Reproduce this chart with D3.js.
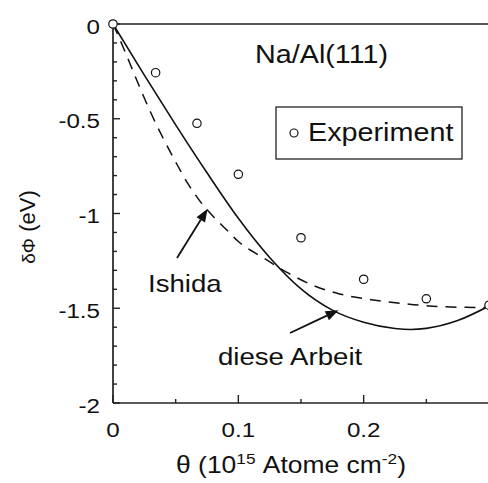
<!DOCTYPE html>
<html>
<head>
<meta charset="utf-8">
<script src="https://cdn.jsdelivr.net/npm/d3@7"></script>
<style>
  html, body { margin: 0; padding: 0; background: #fff; }
  svg { display: block; }
  text { font-family: "Liberation Sans", Arial, Helvetica, sans-serif; fill: #111; }
</style>
</head>
<body>
<svg id="chart" width="488" height="483"></svg>
<script>
// Coverage θ (10^15 atoms/cm²) and work-function change δΦ (eV)
const expTheta = [0, 0.034, 0.067, 0.1, 0.15, 0.2, 0.25, 0.3];
const expDPhi  = [0, -0.257, -0.524, -0.793, -1.128, -1.347, -1.45, -1.484];

// this work (solid curve)
const arbeitTheta = [0, 0.025, 0.05, 0.075, 0.1, 0.125, 0.15, 0.175, 0.2, 0.225, 0.2375, 0.25, 0.275, 0.3];
const arbeitDPhi  = [0, -0.27, -0.532, -0.785, -1.025, -1.232, -1.398, -1.51, -1.574, -1.607, -1.612, -1.606, -1.565, -1.488];

// Ishida (dashed curve)
const ishidaTheta = [0, 0.005, 0.01, 0.015, 0.02, 0.03, 0.04, 0.05, 0.06, 0.07, 0.08, 0.09, 0.1, 0.12, 0.14, 0.16, 0.18, 0.2, 0.22, 0.24, 0.26, 0.28, 0.3];
const ishidaDPhi  = [0, -0.075, -0.152, -0.233, -0.313, -0.466, -0.603, -0.728, -0.845, -0.94, -1.016, -1.082, -1.148, -1.234, -1.315, -1.38, -1.423, -1.449, -1.467, -1.481, -1.491, -1.495, -1.496];

const xMajor = [0, 0.1, 0.2];
const xMajorLabels = ["0", "0.1", "0.2"];
const xMinor = [0.05, 0.15, 0.25];
const yMajor = [0, -0.5, -1, -1.5, -2];
const yMajorLabels = ["0", "-0.5", "-1", "-1.5", "-2"];
const yMinor = [-0.1, -0.2, -0.3, -0.4, -0.6, -0.7, -0.8, -0.9, -1.1, -1.2, -1.3, -1.4, -1.6, -1.7, -1.8, -1.9];

const svg = d3.select("#chart");
const x = d3.scaleLinear().domain([0, 0.3]).range([113, 489]);
const y = d3.scaleLinear().domain([0, -2]).range([24, 403]);
const STRETCH = 1.15;
const ink = "#222";

// text helper with the slightly wide lettering of the figure
function label(g, px, py, txt, size, anchor) {
  return g.append("text")
    .attr("transform", `translate(${px},${py}) scale(${STRETCH},1)`)
    .attr("font-size", size)
    .attr("text-anchor", anchor || "start")
    .text(txt);
}

// frame lines: left, bottom, top
const frame = svg.append("g").attr("stroke", ink).attr("stroke-width", 1.7).attr("fill", "none");
frame.append("line").attr("x1", x(0)).attr("x2", x(0)).attr("y1", y(0)).attr("y2", y(-2));
frame.append("line").attr("x1", x(0)).attr("x2", x(0.3)).attr("y1", y(-2)).attr("y2", y(-2));
frame.append("line").attr("x1", x(0)).attr("x2", x(0.3)).attr("y1", y(0)).attr("y2", y(0));

// inward ticks
const ticks = svg.append("g").attr("stroke", ink).attr("stroke-width", 1.4);
xMajor.forEach(v => ticks.append("line").attr("x1", x(v)).attr("x2", x(v)).attr("y1", y(-2)).attr("y2", y(-2) - 8));
xMinor.forEach(v => ticks.append("line").attr("x1", x(v)).attr("x2", x(v)).attr("y1", y(-2)).attr("y2", y(-2) - 4));
yMajor.forEach(v => ticks.append("line").attr("x1", x(0)).attr("x2", x(0) + 7).attr("y1", y(v)).attr("y2", y(v)));
yMinor.forEach(v => ticks.append("line").attr("x1", x(0)).attr("x2", x(0) + 4).attr("y1", y(v)).attr("y2", y(v)));

// tick labels
const tl = svg.append("g");
xMajor.forEach((v, i) => label(tl, x(v), 437, xMajorLabels[i], 21, "middle"));
yMajor.forEach((v, i) => label(tl, 100, y(v) + 9.5, yMajorLabels[i], 21, "end"));

// axis titles
const xt = svg.append("text")
  .attr("transform", `translate(291,473) scale(${STRETCH},1)`)
  .attr("font-size", 23).attr("text-anchor", "middle");
xt.append("tspan").text("θ (10");
xt.append("tspan").attr("font-size", 15).attr("dy", -9).text("15");
xt.append("tspan").attr("dy", 9).text(" Atome cm");
xt.append("tspan").attr("font-size", 15).attr("dy", -9).text("-2");
xt.append("tspan").attr("dy", 9).text(")");

const yt = svg.append("text")
  .attr("transform", "translate(35,227) rotate(-90)")
  .attr("font-size", 22).attr("text-anchor", "middle");
yt.append("tspan").attr("font-size", 19).text("δΦ");
yt.append("tspan").text(" (eV)");

// curves
const line = d3.line().x(d => x(d[0])).y(d => y(d[1])).curve(d3.curveMonotoneX);
svg.append("path")
  .datum(arbeitTheta.map((t, i) => [t, arbeitDPhi[i]]))
  .attr("d", line).attr("fill", "none").attr("stroke", "#111").attr("stroke-width", 1.6);
svg.append("path")
  .datum(ishidaTheta.map((t, i) => [t, ishidaDPhi[i]]))
  .attr("d", line).attr("fill", "none").attr("stroke", "#111").attr("stroke-width", 1.5)
  .attr("stroke-dasharray", "11,8");

// experimental points
svg.append("g").selectAll("circle")
  .data(expTheta.map((t, i) => [t, expDPhi[i]]))
  .join("circle")
  .attr("cx", d => x(d[0])).attr("cy", d => y(d[1])).attr("r", 4.2)
  .attr("fill", "#fff").attr("stroke", "#111").attr("stroke-width", 1.2);

// system label
label(svg, 255, 63, "Na/Al(111)", 25);

// legend
const lg = svg.append("g");
lg.append("rect").attr("x", 276).attr("y", 107).attr("width", 186).attr("height", 52)
  .attr("fill", "#fff").attr("stroke", ink).attr("stroke-width", 1.3);
lg.append("circle").attr("cx", 294).attr("cy", 133).attr("r", 4)
  .attr("fill", "#fff").attr("stroke", "#111").attr("stroke-width", 1.2);
label(lg, 308, 141, "Experiment", 25);

// annotation arrows
function arrow(x1, y1, x2, y2) {
  const a = Math.atan2(y2 - y1, x2 - x1), L = 13, W = 5;
  const bx = x2 - L * Math.cos(a), by = y2 - L * Math.sin(a);
  svg.append("line").attr("x1", x1).attr("y1", y1).attr("x2", bx).attr("y2", by)
    .attr("stroke", "#111").attr("stroke-width", 1.8);
  svg.append("path")
    .attr("d", `M${x2},${y2}L${bx - W * Math.sin(a)},${by + W * Math.cos(a)}L${bx + W * Math.sin(a)},${by - W * Math.cos(a)}Z`)
    .attr("fill", "#111");
}
arrow(177, 258, x(0.0755), y(-0.975));
arrow(290, 333, x(0.18), y(-1.51));

label(svg, 148, 292, "Ishida", 24);
label(svg, 218, 365, "diese Arbeit", 24);
</script>
</body>
</html>
